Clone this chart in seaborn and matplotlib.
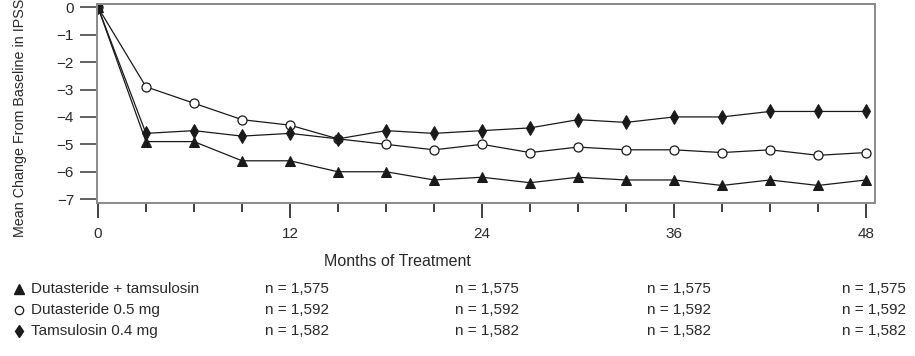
import numpy as np
import pandas as pd
import matplotlib
matplotlib.use("Agg")
import matplotlib.pyplot as plt
from matplotlib.ticker import MultipleLocator
from matplotlib.lines import Line2D
import seaborn as sns

# months of treatment (every 3 months)
months = [0, 3, 6, 9, 12, 15, 18, 21, 24, 27, 30, 33, 36, 39, 42, 45, 48]

# mean change from baseline in IPSS
combo = [0, -4.9, -4.9, -5.6, -5.6, -6.0, -6.0, -6.3, -6.2, -6.4, -6.2, -6.3, -6.3, -6.5, -6.3, -6.5, -6.3]
dutasteride = [0, -2.9, -3.5, -4.1, -4.3, -4.8, -5.0, -5.2, -5.0, -5.3, -5.1, -5.2, -5.2, -5.3, -5.2, -5.4, -5.3]
tamsulosin = [0, -4.6, -4.5, -4.7, -4.6, -4.8, -4.5, -4.6, -4.5, -4.4, -4.1, -4.2, -4.0, -4.0, -3.8, -3.8, -3.8]

series_names = ["Dutasteride + tamsulosin", "Dutasteride 0.5 mg", "Tamsulosin 0.4 mg"]
n_labels = ["n = 1,575", "n = 1,592", "n = 1,582"]
x_ticks = [0, 12, 24, 36, 48]
y_ticks = [0, -1, -2, -3, -4, -5, -6, -7]

df = pd.DataFrame({
    "month": months * 3,
    "change": combo + dutasteride + tamsulosin,
    "group": [series_names[0]] * len(months) + [series_names[1]] * len(months) + [series_names[2]] * len(months),
})

sns.set_style("white")
plt.rcParams["font.family"] = ["Liberation Sans", "DejaVu Sans"]
plt.rcParams["axes.unicode_minus"] = True

line_col = "#1a1a1a"
frame_col = "#8a8a8a"
text_col = "#2a2a2a"

fig = plt.figure(figsize=(9.15, 3.56), dpi=100)
ax = fig.add_axes([97 / 915, 1 - 203 / 356, (875 - 97) / 915, (203 - 4) / 356])

styles = {
    series_names[0]: dict(marker="^", markersize=6.5, markerfacecolor=line_col, markeredgecolor=line_col),
    series_names[1]: dict(marker="o", markersize=6.5, markerfacecolor="white", markeredgecolor=line_col, markeredgewidth=0.9),
    series_names[2]: dict(marker="d", markersize=7, markerfacecolor=line_col, markeredgecolor=line_col),
}
for name in series_names:
    sub = df[df["group"] == name]
    sns.lineplot(data=sub, x="month", y="change", ax=ax, color=line_col,
                 linewidth=0.9, legend=False, **styles[name])

ax.set_xlim(-0.06, 48.56)
ax.set_ylim(-7.14, 0.12)
ax.set_xticks(x_ticks)
ax.xaxis.set_minor_locator(MultipleLocator(3))
ax.set_yticks(y_ticks)
ax.set_yticklabels([str(v).replace("-", "\u2212") for v in y_ticks])
ax.set_xlabel("")
ax.set_ylabel("")

for sp in ax.spines.values():
    sp.set_visible(True)
    sp.set_color(frame_col)
    sp.set_linewidth(1.4)

ax.tick_params(axis="x", which="major", direction="out", length=11, width=1.3,
               color="#333333", pad=6, labelsize=11, labelcolor=text_col, bottom=True)
ax.tick_params(axis="x", which="minor", direction="out", length=6.5, width=1.3,
               color="#333333", bottom=True)
ax.tick_params(axis="y", which="major", direction="out", length=12.5, width=1.3,
               color="#555555", pad=4, labelsize=11, labelcolor=text_col, left=True)

fig.text(397 / 915, 1 - 262 / 356, "Months of Treatment", ha="center", va="center",
         fontsize=11.5, color=text_col)
fig.text(20 / 915, 1 - 118 / 356, "Mean Change From Baseline in IPSS", rotation=90,
         ha="center", va="center", fontsize=10.3, color=text_col)

# sample size table under the chart
row_y = [289, 310, 331]
col_x = [265, 455, 647, 842]
table_markers = [
    dict(marker="^", markersize=6.5, markerfacecolor=line_col, markeredgecolor=line_col),
    dict(marker="o", markersize=6, markerfacecolor="white", markeredgecolor=line_col, markeredgewidth=0.9),
    dict(marker="d", markersize=6.5, markerfacecolor=line_col, markeredgecolor=line_col),
]
for i, name in enumerate(series_names):
    yy = 1 - row_y[i] / 356
    fig.add_artist(Line2D([19 / 915], [yy], linestyle="none", transform=fig.transFigure,
                          **table_markers[i]))
    fig.text(31 / 915, yy, name, ha="left", va="center", fontsize=11, color=text_col)
    for cx in col_x:
        fig.text(cx / 915, yy, n_labels[i], ha="left", va="center", fontsize=11, color=text_col)

fig.savefig("out.png", dpi=100)
